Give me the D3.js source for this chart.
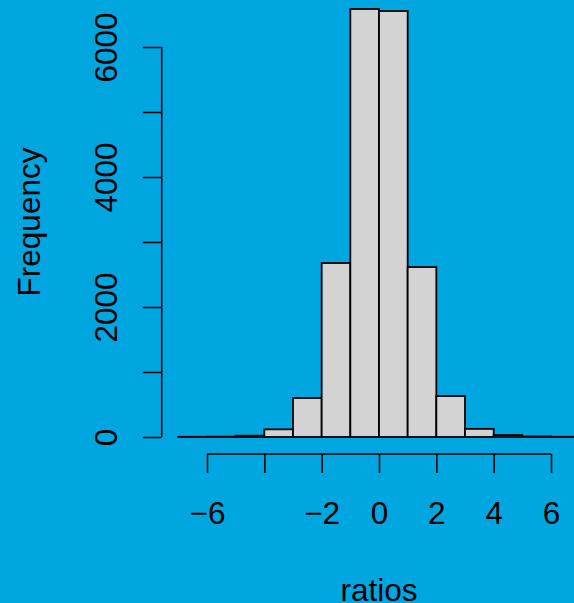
<!DOCTYPE html>
<html>
<head>
<meta charset="utf-8">
<script src="https://cdn.jsdelivr.net/npm/d3@7"></script>
<style>
  body { margin: 0; }
  svg { display: block; }
</style>
</head>
<body>
<div id="hist"></div>
<script>
// histogram data: bins of width 1 from -7 to 7
var binStarts = [-7, -6, -5, -4, -3, -2, -1, 0, 1, 2, 3, 4, 5, 6];
var counts = [3, 5, 20, 118, 600, 2677, 6585, 6554, 2615, 630, 125, 30, 8, 3];
var xTicks = [-6, -4, -2, 0, 2, 4, 6];
var xTickLabels = ["\u22126", "", "\u22122", "0", "2", "4", "6"];
var yTicks = [0, 1000, 2000, 3000, 4000, 5000, 6000];
var yTickLabels = ["0", "", "2000", "", "4000", "", "6000"];

var svgWidth = 574;
var svgHeight = 603;
var font = "'Liberation Sans', Arial, sans-serif";
var fontSize = "31.5px";

var svg = d3.select("#hist")
    .append("svg")
    .attr("width", svgWidth)
    .attr("height", svgHeight);

svg.append("rect")
    .attr("width", svgWidth)
    .attr("height", svgHeight)
    .attr("fill", "#00A6E0");

var x = d3.scaleLinear().domain([-6, 6]).range([207, 551]);
var y = d3.scaleLinear().domain([0, 6000]).range([437, 47]);

var axisX = 454;   // x axis line position
var axisY = 161.7; // y axis line position

// bars
svg.append("g")
    .selectAll("rect")
    .data(binStarts)
    .enter()
    .append("rect")
    .attr("x", d => x(d))
    .attr("y", (d, i) => y(counts[i]))
    .attr("width", d => x(d + 1) - x(d))
    .attr("height", (d, i) => y(0) - y(counts[i]))
    .attr("fill", "#D3D3D3")
    .attr("stroke", "black")
    .attr("stroke-width", 1.8);

// x axis
var xAxis = svg.append("g")
    .attr("transform", `translate(0, ${axisX})`)
    .call(d3.axisBottom(x)
        .tickValues(xTicks)
        .tickSize(19)
        .tickSizeOuter(0)
        .tickFormat((d, i) => xTickLabels[i]));
xAxis.select(".domain").remove();
xAxis.append("line")
    .attr("x1", x(-6)).attr("x2", x(6))
    .attr("y1", 0).attr("y2", 0)
    .attr("stroke", "black");
xAxis.selectAll("line").attr("stroke", "black").attr("stroke-width", 1.5);
xAxis.selectAll("text")
    .attr("y", 70)
    .attr("dy", null)
    .attr("fill", "black")
    .style("font-family", font)
    .style("font-size", fontSize);

// y axis
var yAxis = svg.append("g")
    .attr("transform", `translate(${axisY}, 0)`)
    .call(d3.axisLeft(y)
        .tickValues(yTicks)
        .tickSize(19)
        .tickSizeOuter(0)
        .tickFormat((d, i) => yTickLabels[i]));
yAxis.select(".domain").remove();
yAxis.append("line")
    .attr("x1", 0).attr("x2", 0)
    .attr("y1", y(0)).attr("y2", y(6000));
yAxis.selectAll("line").attr("stroke", "black").attr("stroke-width", 1.5);
yAxis.selectAll(".tick text")
    .attr("x", 0)
    .attr("y", 0)
    .attr("dy", null)
    .attr("text-anchor", "middle")
    .attr("transform", "translate(-44.5, 0) rotate(-90)")
    .attr("fill", "black")
    .style("font-family", font)
    .style("font-size", fontSize);

// axis titles
svg.append("text")
    .attr("x", 379)
    .attr("y", 601)
    .attr("text-anchor", "middle")
    .style("font-family", font)
    .style("font-size", fontSize)
    .text("ratios");

svg.append("text")
    .attr("transform", "translate(40, 222) rotate(-90)")
    .attr("text-anchor", "middle")
    .style("font-family", font)
    .style("font-size", fontSize)
    .text("Frequency");
</script>
</body>
</html>
